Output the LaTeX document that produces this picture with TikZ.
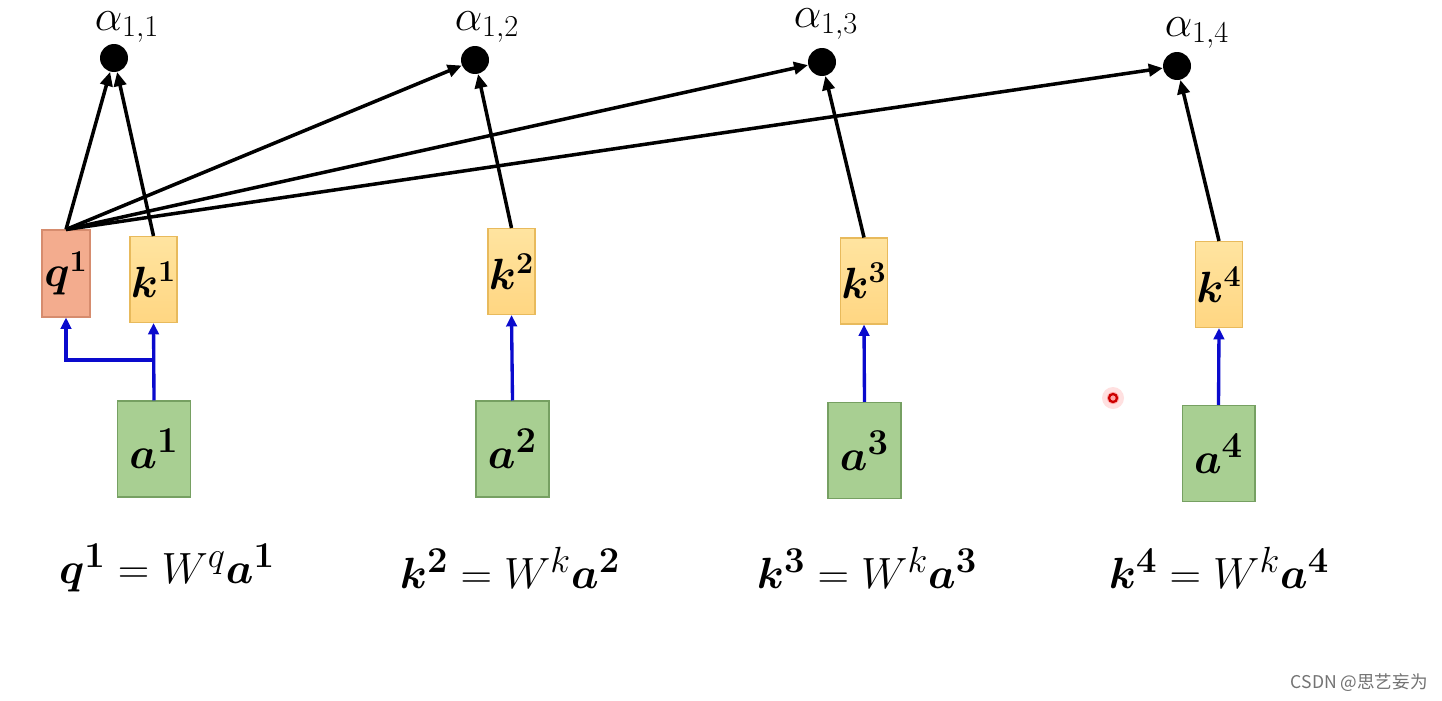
\documentclass[tikz,border=0pt]{standalone}
\usepackage{amsmath,bm}
\usepackage{fontspec}
\newfontfamily\cjkfont{Noto Sans CJK SC}
\usetikzlibrary{arrows.meta}
\definecolor{qfill}{RGB}{243,172,142}
\definecolor{qdraw}{RGB}{214,140,110}
\definecolor{kfill}{RGB}{255,214,130}
\definecolor{ktop}{RGB}{255,228,160}
\definecolor{kdraw}{RGB}{232,186,92}
\definecolor{afill}{RGB}{168,207,146}
\definecolor{adraw}{RGB}{118,160,98}
\definecolor{arrblue}{RGB}{10,10,205}
\tikzset{
  qbox/.style={draw=qdraw, fill=qfill, line width=0.6pt, minimum width=0.96cm, minimum height=1.74cm, inner sep=0pt, font=\fontsize{25}{28}\selectfont},
  kbox/.style={draw=kdraw, top color=ktop, bottom color=kfill, line width=0.6pt, minimum width=0.94cm, minimum height=1.72cm, inner sep=0pt, font=\fontsize{25}{28}\selectfont},
  abox/.style={draw=adraw, fill=afill, line width=0.6pt, minimum width=1.46cm, minimum height=1.92cm, inner sep=0pt, font=\fontsize{28}{32}\selectfont},
  dot/.style={circle, fill=black, minimum size=0.56cm, inner sep=0pt},
  alab/.style={font=\fontsize{24}{27}\selectfont, inner sep=0pt},
  eqlab/.style={font=\fontsize{30}{34}\selectfont, inner sep=0pt},
  blk/.style={draw=black, line width=2pt, -{Triangle[length=8pt,width=7pt]}},
  blu/.style={draw=arrblue, line width=1.9pt, -{Triangle[length=6.5pt,width=6pt]}}
}
\begin{document}
\begin{tikzpicture}[x=0.02cm,y=-0.02cm]
\useasboundingbox[fill=white] (0,0) rectangle (1442,700);
% alpha dots
\node[dot] (d1) at (114,58) {};
\node[dot] (d2) at (475,60) {};
\node[dot] (d3) at (822,62) {};
\node[dot] (d4) at (1177,66) {};
\node[alab] (l1) at (127,27) {$\alpha_{1,1}$};
\node[alab] (l2) at (487,27) {$\alpha_{1,2}$};
\node[alab] (l3) at (826,24) {$\alpha_{1,3}$};
\node[alab] (l4) at (1197,33) {$\alpha_{1,4}$};
% q/k boxes
\node[qbox] (q1) at (66,273.5) {$\bm{q}^{\bm{1}}$};
\node[kbox] (k1) at (153.5,279.5) {$\bm{k}^{\bm{1}}$};
\node[kbox] (k2) at (511.5,271.5) {$\bm{k}^{\bm{2}}$};
\node[kbox] (k3) at (864,281) {$\bm{k}^{\bm{3}}$};
\node[kbox] (k4) at (1219,284.5) {$\bm{k}^{\bm{4}}$};
% a boxes
\node[abox] (a1) at (154,449) {$\bm{a}^{\bm{1}}$};
\node[abox] (a2) at (512.5,449) {$\bm{a}^{\bm{2}}$};
\node[abox] (a3) at (864.5,450.5) {$\bm{a}^{\bm{3}}$};
\node[abox] (a4) at (1218.5,453.5) {$\bm{a}^{\bm{4}}$};
% black arrows
\draw[blk] (q1.north) -- (d1);
\draw[blk] (q1.north) -- (d2);
\draw[blk] (q1.north) -- (d3);
\draw[blk] (q1.north) -- (d4);
\draw[blk] (k1.north) -- (d1);
\draw[blk] (k2.north) -- (d2);
\draw[blk] (k3.north) -- (d3);
\draw[blk] (k4.north) -- (d4);
% blue arrows
\coordinate (br) at (154,360);
\draw[blu] (a1.north) -- (k1.south);
\draw[blu] (br) -| (q1.south);
\draw[blu] (a2.north) -- (k2.south);
\draw[blu] (a3.north) -- (k3.south);
\draw[blu] (a4.north) -- (k4.south);
% equations
\node[eqlab] (e1) at (167,568) {$\bm{q}^{\bm{1}} = W^{q}\bm{a}^{\bm{1}}$};
\node[eqlab] (e2) at (510,568) {$\bm{k}^{\bm{2}} = W^{k}\bm{a}^{\bm{2}}$};
\node[eqlab] (e3) at (867,568) {$\bm{k}^{\bm{3}} = W^{k}\bm{a}^{\bm{3}}$};
\node[eqlab] (e4) at (1219,568) {$\bm{k}^{\bm{4}} = W^{k}\bm{a}^{\bm{4}}$};
% cursor mark
\fill[red!12] (1113,398) circle (11);
\fill[red!35] (1113,398) circle (6);
\draw[red!80!black, line width=1.3pt] (1113,398) circle (4);
% watermark
\node[anchor=east, text=black!55, font=\cjkfont\fontsize{10}{12}\selectfont, inner sep=0pt] (wm) at (1428,683) {CSDN @思艺妄为};
\end{tikzpicture}
\end{document}
